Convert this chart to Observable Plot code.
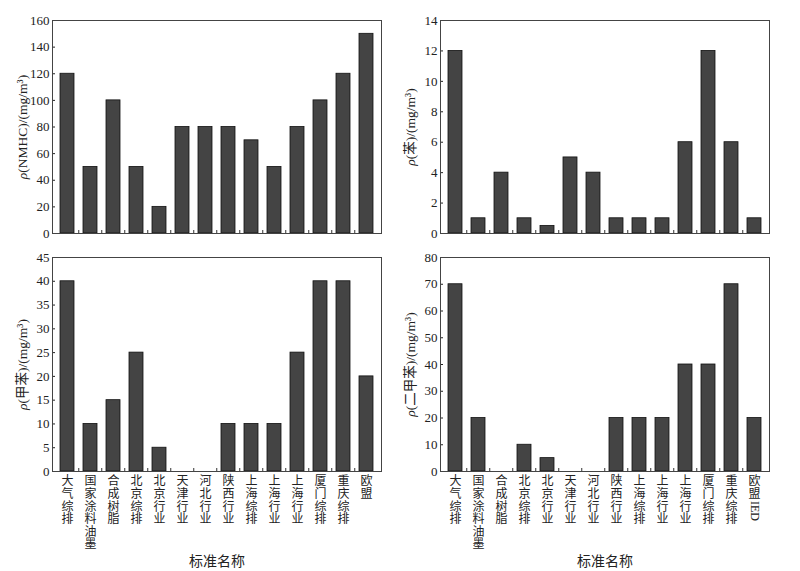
<!DOCTYPE html>
<html><head><meta charset="utf-8">
<script src="https://cdn.jsdelivr.net/npm/d3@7"></script>
<script src="https://cdn.jsdelivr.net/npm/@observablehq/plot@0.6"></script>
<style>
body{margin:0;background:#fff;}
#wrap{position:relative;width:800px;height:571px;}
.panel{position:absolute;}
</style></head><body><div id="wrap"></div>
<script>
const categoriesA = ["大气综排","国家涂料油墨","合成树脂","北京综排","北京行业","天津行业","河北行业","陕西行业","上海综排","上海行业","上海行业","厦门综排","重庆综排","欧盟"];
const categoriesB = ["大气综排","国家涂料油墨","合成树脂","北京综排","北京行业","天津行业","河北行业","陕西行业","上海综排","上海行业","上海行业","厦门综排","重庆综排","欧盟IED"];
const nmhc    = [120, 50, 100, 50, 20, 80, 80, 80, 70, 50, 80, 100, 120, 150];
const benzene = [12, 1, 4, 1, 0.5, 5, 4, 1, 1, 1, 6, 12, 6, 1];
const toluene = [40, 10, 15, 25, 5, 0, 0, 10, 10, 10, 25, 40, 40, 20];
const xylene  = [70, 20, 0, 10, 5, 0, 0, 20, 20, 20, 40, 40, 70, 20];
const yMaxes  = [160, 14, 45, 80];
const ySteps  = [20, 2, 5, 10];
const ySubstances = ["NMHC", "苯", "甲苯", "二甲苯"];
const xTitle = "标准名称";

const FONT = '"Liberation Serif","Noto Sans CJK SC",serif';
const wrap = document.getElementById("wrap");
const LABEL_SIZE = 12, LINE_H = 1.05;

// split a category name into stacked CJK characters; a Latin run stays one piece
function stack(name) {
  return name.match(/[A-Za-z0-9]+|./g);
}

function panel({values, labels, yMax, yStep, substance, left, top, height, ml, mr, mt, mb, showX}) {
  const width = 400;
  const idx = d3.range(values.length);
  const step = (width - ml - mr) / values.length;
  const innerH = height - mt - mb;
  const marks = [
    Plot.barY(values.map((v, i) => ({i, v})), {x: "i", y: "v", fill: "#444", stroke: "#111", strokeWidth: 0.8}),
    Plot.ruleX(idx.slice(1), {x: d => d, dx: -step / 2, insetTop: innerH - 3, stroke: "#333"}),
    Plot.axisY(d3.range(0, yMax + yStep / 2, yStep), {
      tickSize: -3, tickPadding: 6, fontSize: 13, label: "Y", labelAnchor: "center", labelArrow: "none", labelOffset: 35
    }),
    Plot.frame({stroke: "#444"})
  ];
  if (showX) {
    marks.push(Plot.axisX({
      tickSize: 0, tickPadding: 5, fontSize: LABEL_SIZE, lineHeight: LINE_H,
      tickFormat: i => stack(labels[i]).filter(s => s.length === 1).join("\n"),
      label: xTitle, labelAnchor: "center", labelArrow: "none", labelOffset: 94
    }));
  }
  const plot = Plot.plot({
    width, height, marginLeft: ml, marginRight: mr, marginTop: mt, marginBottom: mb,
    style: {fontFamily: FONT, fontSize: "13px", color: "#222", background: "transparent"},
    x: {type: "band", domain: idx, paddingInner: 0.39, paddingOuter: 0.195, axis: null},
    y: {domain: [0, yMax], axis: null},
    marks
  });
  const svg = d3.select(plot);
  // y label with italic rho
  const lab = svg.select('g[aria-label="y-axis label"] text');
  lab.text(null);
  lab.append("tspan").attr("font-style", "italic").text("ρ");
  lab.append("tspan").text(`(${substance})/(mg/m³)`);
  lab.attr("font-size", 13.5);
  svg.select('g[aria-label="x-axis label"] text').attr("font-size", 14);
  plot.classList.add("panel");
  plot.style.left = left + "px";
  plot.style.top = top + "px";
  wrap.appendChild(plot);
  // Latin runs in category names are written sideways below the stacked characters
  if (showX) {
    const texts = svg.selectAll('g[aria-label="x-axis tick label"] text').nodes();
    texts.forEach((t, j) => {
      const parts = stack(labels[j]);
      const latin = parts.find(s => s.length > 1);
      if (!latin) return;
      const g = t.parentNode;
      const tr = t.getAttribute("transform") || "";
      const bb = t.getBBox();
      const nt = document.createElementNS("http://www.w3.org/2000/svg", "text");
      nt.setAttribute("transform", `${tr} translate(${-LABEL_SIZE * 0.33},${bb.y + bb.height}) rotate(90)`);
      nt.setAttribute("font-size", LABEL_SIZE);
      nt.setAttribute("text-anchor", "start");
      nt.textContent = latin;
      g.appendChild(nt);
    });
  }
}

const series = [nmhc, benzene, toluene, xylene];
const cfg = [
  {left: 0,   top: 0,   height: 240, ml: 52, mr: 19, mt: 20, mb: 7,   showX: false, labels: categoriesA},
  {left: 400, top: 0,   height: 240, ml: 40, mr: 31, mt: 20, mb: 7,   showX: false, labels: categoriesB},
  {left: 0,   top: 240, height: 331, ml: 52, mr: 19, mt: 17, mb: 100, showX: true,  labels: categoriesA},
  {left: 400, top: 240, height: 331, ml: 40, mr: 31, mt: 17, mb: 100, showX: true,  labels: categoriesB}
];
cfg.forEach((c, k) => panel({...c, values: series[k], yMax: yMaxes[k], yStep: ySteps[k], substance: ySubstances[k]}));
</script></body></html>
